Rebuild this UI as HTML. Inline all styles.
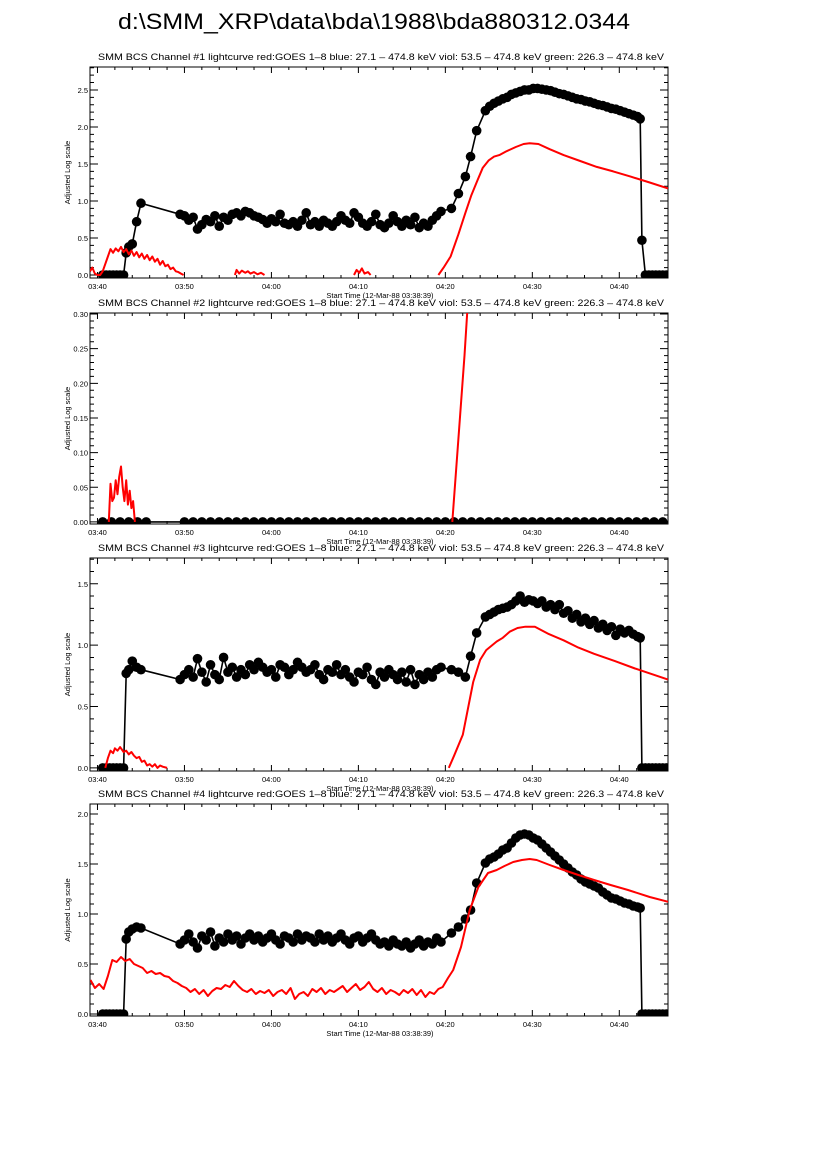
<!DOCTYPE html>
<html><head><meta charset="utf-8"><style>
html,body{margin:0;padding:0;background:#fff;}
svg{display:block;font-family:"Liberation Sans",sans-serif;}
</style></head><body>
<svg id="chart" width="826" height="1169" viewBox="0 0 826 1169" xmlns="http://www.w3.org/2000/svg">
<text x="118" y="29" font-size="22.5" textLength="512" lengthAdjust="spacingAndGlyphs">d:\SMM_XRP\data\bda\1988\bda880312.0344</text>
</svg>
<script>
// x ticks (minutes after 03:40)
const xTickVals = [0, 10, 20, 30, 40, 50, 60];
const xTickLabels = ["03:40", "03:50", "04:00", "04:10", "04:20", "04:30", "04:40"];

// shared black sample times
const tBlack = [0.6,1.0,1.4,1.8,2.2,2.6,3.0,
 3.3,3.6,4.0,4.5,5.0,
 9.5,10.0,10.5,11.0,11.5,12.0,12.5,13.0,13.5,14.0,14.5,15.0,15.5,16.0,16.5,17.0,17.5,18.0,18.5,19.0,19.5,20.0,20.5,21.0,21.5,22.0,22.5,23.0,23.5,24.0,24.5,25.0,25.5,26.0,26.5,27.0,27.5,28.0,28.5,29.0,29.5,30.0,30.5,31.0,31.5,32.0,32.5,33.0,33.5,34.0,34.5,35.0,35.5,36.0,36.5,37.0,37.5,38.0,38.5,39.0,39.5,
 40.7,41.5,42.3,42.9,43.6,
 44.6,45.1,45.6,46.1,46.6,47.1,47.6,48.1,48.6,49.1,49.6,50.1,50.6,51.1,51.6,52.1,52.6,53.1,53.6,54.1,54.6,55.1,55.6,56.1,56.6,57.1,57.6,58.1,58.6,59.1,59.6,60.1,60.6,61.1,61.6,62.1,
 62.4,
 62.6,63.0,63.4,63.8,64.2,64.6,65.0,65.4];

const vBlack1 = [0,0,0,0,0,0,0,
 0.30,0.38,0.42,0.72,0.97,
 0.82,0.80,0.74,0.78,0.62,0.68,0.75,0.72,0.80,0.66,
 0.78,0.74,0.82,0.84,0.80,0.86,0.84,0.80,0.78,0.75,
 0.70,0.76,0.72,0.82,0.70,0.68,0.72,0.66,0.74,0.84,
 0.68,0.72,0.66,0.74,0.70,0.66,0.72,0.80,0.74,0.70,
 0.84,0.78,0.70,0.66,0.72,0.82,0.68,0.64,0.70,0.80,
 0.72,0.66,0.74,0.68,0.78,0.64,0.70,0.66,0.74,0.80,
 0.86,
 0.90,1.10,1.33,1.60,1.95,
 2.22,2.28,2.32,2.35,2.38,2.40,2.44,2.46,2.48,2.50,2.50,2.52,2.52,2.51,2.50,2.49,2.47,2.45,2.44,2.42,2.40,2.38,2.37,2.35,2.34,2.32,2.30,2.29,2.27,2.25,2.24,2.22,2.20,2.18,2.16,2.14,
 2.11,
 0.47,0,0,0,0,0,0,0];

const vBlack3 = [0,0,0,0,0,0,0,
 0.77,0.80,0.87,0.82,0.80,
 0.72,0.76,0.80,0.74,0.89,0.78,0.70,0.84,0.76,0.72,
 0.90,0.78,0.82,0.74,0.80,0.76,0.84,0.80,0.86,0.82,
 0.78,0.80,0.74,0.84,0.82,0.76,0.80,0.86,0.82,0.78,
 0.80,0.84,0.76,0.72,0.80,0.78,0.84,0.76,0.80,0.74,
 0.70,0.78,0.76,0.82,0.72,0.68,0.78,0.74,0.80,0.76,
 0.72,0.78,0.70,0.80,0.68,0.76,0.72,0.78,0.74,0.80,
 0.82,
 0.80,0.78,0.74,0.91,1.10,
 1.23,1.25,1.27,1.29,1.30,1.31,1.33,1.36,1.40,1.35,1.37,1.36,1.34,1.36,1.31,1.33,1.29,1.33,1.26,1.28,1.22,1.25,1.19,1.22,1.17,1.20,1.14,1.17,1.12,1.15,1.08,1.13,1.10,1.12,1.09,1.07,
 1.06,
 0,0,0,0,0,0,0,0];

const vBlack4 = [0,0,0,0,0,0,0,
 0.75,0.82,0.85,0.87,0.86,
 0.70,0.74,0.80,0.72,0.66,0.78,0.74,0.82,0.68,0.76,
 0.72,0.80,0.74,0.78,0.70,0.76,0.80,0.74,0.78,0.72,
 0.76,0.80,0.74,0.70,0.78,0.76,0.72,0.80,0.74,0.78,
 0.76,0.72,0.80,0.74,0.78,0.72,0.76,0.80,0.74,0.70,
 0.76,0.78,0.72,0.76,0.80,0.74,0.70,0.72,0.68,0.74,
 0.70,0.68,0.72,0.66,0.70,0.74,0.68,0.72,0.70,0.76,
 0.72,
 0.81,0.87,0.95,1.04,1.31,
 1.51,1.55,1.57,1.60,1.64,1.66,1.71,1.76,1.79,1.80,1.79,1.76,1.74,1.70,1.66,1.62,1.58,1.54,1.50,1.46,1.42,1.39,1.35,1.32,1.30,1.28,1.26,1.22,1.19,1.16,1.15,1.13,1.11,1.10,1.08,1.07,
 1.06,
 0,0,0,0,0,0,0,0];

const tBlack2 = [0.6,1.6,2.6,3.6,4.6,5.6,
 10,11,12,13,14,15,16,17,18,19,20,21,22,23,24,25,26,27,28,29,30,31,32,33,34,35,36,37,38,39,40,41,42,43,44,45,46,47,48,49,50,51,52,53,54,55,56,57,58,59,60,61,62,63,64,65];
const vBlack2 = [0,0,0,0,0,0,
 0,0,0,0,0,0,0,0,0,0,0,0,0,0,0,0,0,0,0,0,0,0,0,0,0,0,0,0,0,0,0,0,0,0,0,0,0,0,0,0,0,0,0,0,0,0,0,0,0,0,0,0,0,0,0,0];

// GOES red curves (null = gap)
const tRed1 = [-0.86,-0.6,-0.3,0,0.3,0.6,0.9,1.2,1.5,1.8,2.1,2.4,2.7,3.0,3.3,3.6,3.9,4.2,4.5,4.8,5.1,5.4,5.7,6.0,6.3,6.6,6.9,7.2,7.5,7.8,8.1,8.4,8.7,9.0,9.3,9.6,9.9,
 10.0,15.8,16.0,16.3,16.6,17.0,17.3,17.6,18.0,18.4,18.8,19.2,
 19.3,29.5,29.8,30.1,30.4,30.7,31.1,31.4,
 31.5,39.2,39.8,40.6,41.5,42.3,43.0,43.7,44.3,45.0,45.6,46.2,47.0,48.1,49.0,49.7,50.7,52.0,53.6,55.5,57.4,59.3,61.3,63.5,65.6];
const vRed1 = [0.05,0.10,0.02,0.0,0.0,0.05,0.15,0.25,0.35,0.30,0.36,0.32,0.38,0.31,0.35,0.28,0.33,0.26,0.31,0.24,0.29,0.22,0.27,0.20,0.25,0.18,0.22,0.14,0.19,0.12,0.14,0.08,0.10,0.05,0.04,0.02,0.0,
 null,0,0.07,0.02,0.06,0.03,0.05,0.02,0.04,0.01,0.03,0,
 null,0,0.07,0.03,0.09,0.02,0.04,0,
 null,0,0.10,0.25,0.55,0.84,1.08,1.28,1.45,1.55,1.60,1.62,1.67,1.73,1.77,1.78,1.77,1.70,1.62,1.54,1.46,1.40,1.33,1.25,1.17];

const tRed2 = [1.3,1.5,1.7,1.9,2.1,2.3,2.5,2.7,2.9,3.1,3.3,3.5,3.7,3.9,4.1,4.3,4.4,40.8,41.5,42.2,42.6];
const vRed2 = [0,0.055,0.03,0.035,0.06,0.04,0.065,0.08,0.05,0.03,0.06,0.025,0.045,0.02,0.03,0,null,0,0.12,0.24,0.32];

const tRed3 = [0.9,1.2,1.5,1.8,2.0,2.3,2.6,3.0,3.3,3.6,3.9,4.2,4.5,4.8,5.1,5.4,5.7,6.0,6.3,6.6,6.9,7.2,7.5,8.0,
 8.1,40.4,41.0,42.0,43.2,44.0,44.7,45.9,46.6,47.4,48.3,49.2,50.3,51.9,53.6,55.3,57.1,59.5,61.8,63.9,65.6];
const vRed3 = [0,0.08,0.14,0.12,0.16,0.14,0.17,0.13,0.14,0.11,0.13,0.10,0.08,0.09,0.05,0.06,0.02,0.03,0.01,0.03,0.0,0.02,0.01,0.0,
 null,0,0.10,0.27,0.70,0.88,0.96,1.03,1.06,1.11,1.14,1.15,1.15,1.09,1.04,0.98,0.93,0.87,0.81,0.76,0.72];

const tRed4 = [-0.8,-0.3,0.2,0.7,1.2,1.7,2.2,2.7,3.2,3.7,4.2,4.7,5.2,5.7,6.2,6.7,7.2,7.7,8.2,8.7,9.2,9.7,10.2,10.7,11.2,11.7,12.2,12.7,13.2,13.7,14.2,14.7,15.2,15.7,16.2,16.7,17.2,17.7,18.2,18.7,19.2,19.7,20.2,20.7,21.2,21.7,22.2,22.7,23.2,23.7,24.2,24.7,25.2,25.7,26.2,26.7,27.2,27.7,28.2,28.7,29.2,29.7,30.2,30.7,31.2,31.7,32.2,32.7,33.2,33.7,34.2,34.7,35.2,35.7,36.2,36.7,37.2,37.7,38.2,38.7,39.2,39.7,
 40.3,40.9,41.8,42.8,43.8,44.9,45.9,46.8,47.8,48.8,49.7,50.5,52.0,53.6,55.3,57.1,59.0,61.0,63.5,65.7];
const vRed4 = [0.34,0.26,0.30,0.25,0.38,0.54,0.52,0.57,0.53,0.55,0.50,0.48,0.46,0.41,0.43,0.40,0.41,0.38,0.37,0.33,0.31,0.28,0.26,0.22,0.25,0.20,0.24,0.18,0.23,0.26,0.25,0.29,0.27,0.33,0.28,0.24,0.22,0.25,0.20,0.23,0.21,0.24,0.18,0.22,0.24,0.20,0.26,0.15,0.20,0.22,0.18,0.25,0.22,0.26,0.20,0.24,0.22,0.25,0.28,0.22,0.26,0.30,0.24,0.27,0.32,0.25,0.22,0.26,0.20,0.24,0.22,0.19,0.24,0.21,0.25,0.19,0.24,0.17,0.22,0.20,0.25,0.27,
 0.36,0.44,0.67,1.04,1.27,1.41,1.44,1.48,1.52,1.54,1.55,1.54,1.49,1.44,1.39,1.34,1.29,1.24,1.17,1.12];

// y tick definitions
const yTicks1 = [0, 0.5, 1.0, 1.5, 2.0, 2.5];
const yTicks2 = [0, 0.05, 0.10, 0.15, 0.20, 0.25, 0.30];
const yTicks3 = [0, 0.5, 1.0, 1.5];
const yTicks4 = [0, 0.5, 1.0, 1.5, 2.0];

const NS = "http://www.w3.org/2000/svg";
const svg = document.getElementById("chart");
const X0 = 90, X1 = 668, XMIN = -0.86, XMAX = 65.6;
function sx(t){ return X0 + (t - XMIN) / (XMAX - XMIN) * (X1 - X0); }
function mk(tag, attrs, parent){
  const e = document.createElementNS(NS, tag);
  for (const k in attrs) e.setAttribute(k, attrs[k]);
  (parent || svg).appendChild(e);
  return e;
}

function panel(n, top, bottom, ymin, ymax, yTicks, minorStep, fmtDigits, tB, vB, tR, vR){
  const g = mk("g", {});
  
  
  const sy = v => bottom - (v - ymin) / (ymax - ymin) * (bottom - top);
  const clipId = "clip" + n;
  const cp = mk("clipPath", {id: clipId}, g);
  mk("rect", {x: X0, y: top, width: X1 - X0, height: bottom - top}, cp);

  const title = mk("text", {x: 98, y: top - 7, "font-size": 9.5, textLength: 566, lengthAdjust: "spacingAndGlyphs"}, g);
  title.textContent = "SMM BCS Channel #" + n + " lightcurve  red:GOES 1\u20138  blue: 27.1 \u2013 474.8 keV  viol: 53.5 \u2013 474.8 keV  green: 226.3 \u2013 474.8 keV";
  
  

  const fr = mk("rect", {x: X0, y: top, width: X1 - X0, height: bottom - top, fill: "none", stroke: "#000", "stroke-width": 1}, g);
  
  

  let d = "";
  for (let m = 0; m <= 64; m += 2) {
    const x = sx(m), L = (m % 10 === 0) ? 6 : 3;
    d += `M${x},${bottom}v${-L}M${x},${top}v${L}`;
  }
  const nMinor = Math.round((ymax - ymin) / minorStep) + 2;
  for (let i = 0; i <= nMinor; i++) {
    const v = Math.ceil(ymin / minorStep) * minorStep + i * minorStep;
    if (v > ymax + 1e-9) break;
    const y = sy(v);
    const isMaj = yTicks.some(t => Math.abs(t - v) < 1e-6);
    const L = isMaj ? 8 : 4;
    d += `M${X0},${y}h${L}M${X1},${y}h${-L}`;
  }
  const tk = mk("path", {d: d, stroke: "#000", "stroke-width": 1, fill: "none"}, g);
  
  

  xTickVals.forEach((t, i) => {
    const tx = mk("text", {x: sx(t), y: bottom + 11, "font-size": 7.5, "text-anchor": "middle"}, g);
    tx.textContent = xTickLabels[i];
    
    
  });
  yTicks.forEach(v => {
    const ty = mk("text", {x: X0 - 2, y: sy(v) + 3, "font-size": 7.5, "text-anchor": "end"}, g);
    ty.textContent = v.toFixed(fmtDigits);
    
    
  });
  const xl = mk("text", {x: 380, y: bottom + 20, "font-size": 7.5, "text-anchor": "middle"}, g);
  xl.textContent = "Start Time (12-Mar-88 03:38:39)";
  
  
  const cy = (top + bottom) / 2;
  const yl = mk("text", {x: 70, y: cy, "font-size": 7.5, "text-anchor": "middle", transform: `rotate(-90 70 ${cy})`}, g);
  yl.textContent = "Adjusted Log scale";
  
  

  const plot = mk("g", {"clip-path": `url(#${clipId})`}, g);
  let bd = "";
  tB.forEach((t, i) => { bd += (i ? "L" : "M") + sx(t).toFixed(1) + "," + sy(vB[i]).toFixed(1); });
  const bl = mk("path", {d: bd, stroke: "#000", "stroke-width": 1.6, fill: "none"}, plot);
  
  
  tB.forEach((t, i) => {
    const c = mk("circle", {cx: sx(t), cy: sy(vB[i]), r: 4.8, fill: "#000"}, plot);
    
    
  });
  let rd = "", pen = false;
  tR.forEach((t, i) => {
    if (vR[i] === null) { pen = false; return; }
    rd += (pen ? "L" : "M") + sx(t).toFixed(1) + "," + sy(vR[i]).toFixed(1);
    pen = true;
  });
  const rl = mk("path", {d: rd, stroke: "#ff0000", "stroke-width": 2, fill: "none", "stroke-linejoin": "round"}, plot);
  
  
}

panel(1, 67, 278, -0.04, 2.81, yTicks1, 0.1, 1, tBlack, vBlack1, tRed1, vRed1);
panel(2, 313, 524, -0.003, 0.3015, yTicks2, 0.01, 2, tBlack2, vBlack2, tRed2, vRed2);
panel(3, 558, 771, -0.025, 1.71, yTicks3, 0.1, 1, tBlack, vBlack3, tRed3, vRed3);
panel(4, 804, 1016, -0.02, 2.1, yTicks4, 0.1, 1, tBlack, vBlack4, tRed4, vRed4);
</script>
</body></html>
